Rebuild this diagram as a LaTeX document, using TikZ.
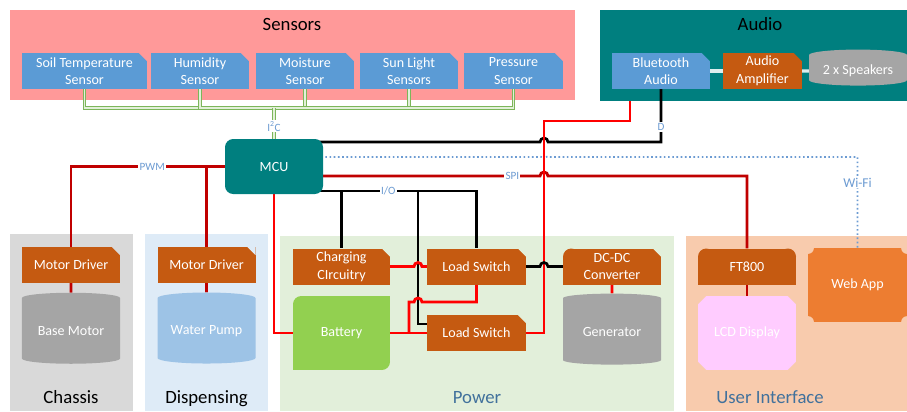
\documentclass[tikz,border=0pt]{standalone}
\usepackage{fontspec}
\setmainfont{Carlito}
\usetikzlibrary{shapes.geometric}

\definecolor{sensbg}{HTML}{FF9999}
\definecolor{boxblue}{HTML}{5B9BD5}
\definecolor{boxorange}{HTML}{C55A11}
\definecolor{audioteal}{HTML}{007F7F}
\definecolor{cylgray}{HTML}{A5A5A5}
\definecolor{chassisbg}{HTML}{D9D9D9}
\definecolor{dispbg}{HTML}{DEEBF7}
\definecolor{pumpblue}{HTML}{9DC3E6}
\definecolor{powerbg}{HTML}{E2EFDA}
\definecolor{batgreen}{HTML}{92D050}
\definecolor{uibg}{HTML}{F8CBAD}
\definecolor{lcdpink}{HTML}{FFCCFF}
\definecolor{weborange}{HTML}{ED7D31}
\definecolor{titleblue}{HTML}{41719C}
\definecolor{lblblue}{HTML}{6C9BD2}
\definecolor{pwrred}{HTML}{FF0000}
\definecolor{sigred}{HTML}{C00000}
\definecolor{i2cgreen}{HTML}{7CB65A}
\definecolor{i2clight}{HTML}{E2F0D9}
\definecolor{audiolink}{HTML}{DDEEEE}

\pgfdeclarelayer{groups}
\pgfdeclarelayer{wires}
\pgfsetlayers{groups,wires,main}

\newcommand{\boxsnip}[4]{%
	\fill[#4] (path picture bounding box.#1) -- ([xshift=#2]path picture bounding box.#1) -- ([yshift=#3]path picture bounding box.#1) -- cycle;}
\newcommand{\boxcorner}[5]{%
	\fill[#4] (path picture bounding box.#1) rectangle ++(#2,#3);
	\fill[#5] ([shift={(#2,#3)}]path picture bounding box.#1) circle (7pt);}

\tikzset{
	box/.style 2 args={rectangle, fill=#2, minimum width=#1*0.03cm, minimum height=1.08cm, inner sep=1pt, text=white, align=center, font=\fontsize{12}{15}\selectfont},
	snip/.style={path picture={\boxsnip{north east}{-7pt}{-7pt}{#1}}},
	can/.style={cylinder, shape border rotate=90, aspect=0.15, fill=#1, minimum width=2.94cm, inner sep=1pt, text=white, font=\fontsize{12}{15}\selectfont},
	grptitle/.style={anchor=base, font=\fontsize{16}{18}\selectfont},
	lbl/.style={fill=white, text=lblblue, inner sep=1pt, font=\fontsize{9.5}{10}\selectfont},
	pwr/.style={draw=pwrred, line width=2.4pt},
	sig/.style={draw=sigred, line width=2.4pt},
	ctl/.style={draw=black, line width=2.3pt},
	i2c/.style={draw=i2cgreen, double=i2clight, double distance=1.2pt, line width=0.8pt},
	wifi/.style={draw=lblblue, line width=1.4pt, dash pattern=on 1.4pt off 2.2pt},
	alink/.style={draw=audiolink, line width=2.8pt},
}

\begin{document}
\begin{tikzpicture}[x=0.03cm, y=-0.03cm]
	\useasboundingbox (0,0) rectangle (907,411);
	\begin{pgfonlayer}{groups}
		\fill[sensbg] (10,10) rectangle (575,100);
		\fill[audioteal] (600,10) rectangle (907,101);
		\fill[chassisbg] (10,234) rectangle (133,411);
		\fill[dispbg] (145,234) rectangle (268,411);
		\fill[powerbg] (280,236) rectangle (674,411);
		\fill[uibg] (686,236) rectangle (907,411);
	\end{pgfonlayer}

	\node[grptitle] (senstitle) at (292,30) {Sensors};
	\foreach \n/\x/\w/\t in {soil/84.5/125/{Soil Temperature\\Sensor}, hum/200/98/{Humidity\\Sensor}, moist/305/98/{Moisture\\Sensor}, sun/409/98/{Sun Light\\Sensors}, press/513.5/99/{Pressure\\Sensor}}
		\node[box={\w}{boxblue}, snip=sensbg] (\n) at (\x,71) {\t};

	\node[grptitle] (audtitle) at (760,30) {Audio};
	\node[box={98}{boxblue}, snip=audioteal] (bt) at (661,71) {Bluetooth\\Audio};
	\node[box={79}{boxorange}, snip=audioteal] (amp) at (762.5,71) {Audio\\Amplifier};
	\node[can=cylgray, minimum height=1.08cm] (spk) at (858,71) {2 x Speakers};

	\node[box={98}{audioteal}, minimum height=55*0.03cm, rounded corners=7pt] (mcu) at (274,166.5) {MCU};

	\node[box={98}{boxorange}, snip=chassisbg] (md1) at (71,265) {Motor Driver};
	\node[can=cylgray, minimum height=2.13cm] (bmot) at (71,331.5) {Base Motor};
	\node[grptitle] (chtitle) at (71,403) {Chassis};

	\node[box={98}{boxorange}, snip=dispbg] (md2) at (206.5,265) {Motor Driver};
	\node[can=pumpblue, minimum height=2.13cm] (pump) at (206.5,331.5) {Water Pump};
	\node[grptitle] (disptitle) at (206.5,403) {Dispensing};

	\node[box={97}{boxorange}, snip=powerbg] (chg) at (341.5,266.5) {Charging\\CIrcuitry};
	\node[box={97}{batgreen}, minimum height=74*0.03cm, path picture={
		\boxcorner{north west}{7pt}{-7pt}{powerbg}{batgreen}
		\boxcorner{south east}{-7pt}{7pt}{powerbg}{batgreen}}] (bat) at (341.5,333) {Battery};
	\node[box={99}{boxorange}, snip=powerbg] (ls1) at (476.5,266.5) {Load Switch};
	\node[box={99}{boxorange}, snip=powerbg] (ls2) at (476.5,333) {Load Switch};
	\node[box={98}{boxorange}, path picture={
		\boxcorner{north west}{7pt}{-7pt}{powerbg}{boxorange}
		\boxsnip{north east}{-7pt}{-7pt}{powerbg}}] (dcdc) at (612,266.5) {DC-DC\\Converter};
	\node[can=cylgray, minimum height=2.13cm] (gen) at (612,332) {Generator};
	\node[grptitle, text=titleblue] (powtitle) at (477,403) {Power};

	\node[box={98}{boxorange}, path picture={
		\boxcorner{north west}{7pt}{-7pt}{uibg}{boxorange}
		\boxcorner{north east}{-7pt}{-7pt}{uibg}{boxorange}}] (ft) at (747,266.5) {FT800};
	\node[box={98}{lcdpink}, minimum height=74*0.03cm, path picture={
		\boxsnip{north west}{7pt}{-7pt}{uibg}
		\boxsnip{north east}{-7pt}{-7pt}{uibg}
		\boxsnip{south west}{7pt}{7pt}{uibg}
		\boxsnip{south east}{-7pt}{7pt}{uibg}}] (lcd) at (747,333) {LCD Display};
	\node[box={99}{weborange}, minimum height=74*0.03cm, path picture={
		\foreach \c in {north west,north east,south west,south east}
			\fill[uibg] (path picture bounding box.\c) circle (5pt);}] (web) at (857.5,285) {Web App};
	\node[grptitle, text=titleblue] (uititle) at (770,403) {User Interface};

	\begin{pgfonlayer}{wires}
		\coordinate (bus) at (274,108);
		\foreach \n in {soil,hum,moist,sun,press}
			\draw[i2c] (\n.south) |- (bus);
		\draw[i2c] (bus) -- node[lbl, pos=.6] {I\textsuperscript{2}C} (mcu.north);

		\draw[alink] (bt) -- (amp);
		\draw[alink] (amp) -- (spk);

		\draw[sig] (mcu.center) -| node[lbl, pos=.3] {PWM} (md1.north);
		\draw[sig] (mcu.center) -| (md2.north);
		\draw[sig] (md1) -- (bmot);
		\draw[sig] (md2) -- (pump);

		\draw[pwr] (mcu.center) |- (bat.west);

		\coordinate (dtap) at (661,142);
		\draw[ctl] (bt.south) -- node[lbl, pos=.72] {D} (dtap) -- (548,142)
			arc[start angle=0, end angle=180, radius=3.4pt] -- (mcu.center |- dtap);

		\coordinate (wtap) at (300,157);
		\draw[wifi] (wtap) -- (541,157) arc[start angle=180, end angle=0, radius=2.5pt]
			-| node[lbl, pos=.64, font=\fontsize{11.5}{12}\selectfont] {Wi-Fi} (web.north);

		\coordinate (spitap) at (300,176);
		\draw[sig] (spitap) -- node[lbl, pos=.885] {SPI} (540,176)
			arc[start angle=180, end angle=0, radius=3.4pt] -| (ft.north);

		\coordinate (btpwr) at (630,101);
		\draw[pwr] (btpwr) |- (544,121) |- (ls2.east);

		\coordinate (io) at (300,191);
		\draw[ctl] (io) -| node[lbl, pos=.25] {I/O} (ls1.north);
		\draw[ctl] (io -| chg.north) -- (chg.north);
		\coordinate (lsx) at (418,324);
		\draw[ctl] (io -| lsx) -- (lsx) -- (lsx -| ls2.west);

		\draw[pwr] (chg.east) -- (414,266.5) arc[start angle=180, end angle=0, radius=3.4pt] -- (ls1.west);
		\draw[pwr] (ls1.south) |- (422,302) arc[start angle=0, end angle=180, radius=3.4pt] -| (409,333);
		\draw[pwr] (bat.east) -- (ls2.west);
		\draw[ctl] (ls1.east) -- (540,266.5) arc[start angle=180, end angle=0, radius=3.4pt] -- (dcdc.west);
		\draw[pwr] (dcdc) -- (gen);
		\draw[sig] (ft) -- (lcd);
	\end{pgfonlayer}
\end{tikzpicture}
\end{document}
